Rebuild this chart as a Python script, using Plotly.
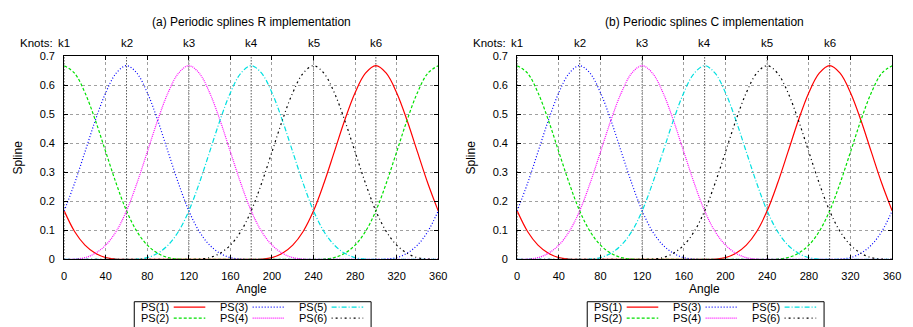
import plotly.graph_objects as go

W, H = 913, 327

angle = list(range(0, 361, 10))

ps1 = [0.167, 0.096, 0.049, 0.021, 0.006, 0.001, 0, 0, 0, 0, 0, 0, 0, 0, 0, 0, 0, 0, 0,
       0.001, 0.006, 0.021, 0.049, 0.096, 0.167, 0.262, 0.370, 0.479, 0.574, 0.641, 0.667,
       0.641, 0.574, 0.479, 0.370, 0.262, 0.167]
ps2 = [0.667, 0.641, 0.574, 0.479, 0.370, 0.262, 0.167, 0.096, 0.049, 0.021, 0.006, 0.001,
       0, 0, 0, 0, 0, 0, 0, 0, 0, 0, 0, 0, 0,
       0.001, 0.006, 0.021, 0.049, 0.096, 0.167, 0.262, 0.370, 0.479, 0.574, 0.641, 0.667]
ps3 = [0.167, 0.262, 0.370, 0.479, 0.574, 0.641, 0.667, 0.641, 0.574, 0.479, 0.370, 0.262,
       0.167, 0.096, 0.049, 0.021, 0.006, 0.001, 0, 0, 0, 0, 0, 0, 0, 0, 0, 0, 0, 0, 0,
       0.001, 0.006, 0.021, 0.049, 0.096, 0.167]
ps4 = [0, 0.001, 0.006, 0.021, 0.049, 0.096, 0.167, 0.262, 0.370, 0.479, 0.574, 0.641, 0.667,
       0.641, 0.574, 0.479, 0.370, 0.262, 0.167, 0.096, 0.049, 0.021, 0.006, 0.001,
       0, 0, 0, 0, 0, 0, 0, 0, 0, 0, 0, 0, 0]
ps5 = [0, 0, 0, 0, 0, 0, 0, 0.001, 0.006, 0.021, 0.049, 0.096, 0.167, 0.262, 0.370, 0.479,
       0.574, 0.641, 0.667, 0.641, 0.574, 0.479, 0.370, 0.262, 0.167, 0.096, 0.049, 0.021,
       0.006, 0.001, 0, 0, 0, 0, 0, 0, 0]
ps6 = [0, 0, 0, 0, 0, 0, 0, 0, 0, 0, 0, 0, 0, 0.001, 0.006, 0.021, 0.049, 0.096, 0.167,
       0.262, 0.370, 0.479, 0.574, 0.641, 0.667, 0.641, 0.574, 0.479, 0.370, 0.262, 0.167,
       0.096, 0.049, 0.021, 0.006, 0.001, 0]

series_names = ["PS(1)", "PS(2)", "PS(3)", "PS(4)", "PS(5)", "PS(6)"]
series_vals = [ps1, ps2, ps3, ps4, ps5, ps6]
colors = ["#ff0000", "#00e000", "#0000ff", "#ff00ff", "#00e0e0", "#000000"]
dashes = ["solid", "3px,2px", "1px,2px", "1px,1px", "5px,2px,1px,2px", "1px,3px,2px,3px"]

knots = [0, 60, 120, 180, 240, 300]
knot_labels = ["k1", "k2", "k3", "k4", "k5", "k6"]
titles = ["(a) Periodic splines R implementation", "(b) Periodic splines C implementation"]

FONT = "Liberation Sans, Arial, sans-serif"
FS = 12
FS_KNOT = 11.5
FS_TICK = 11
FS_LEG = 11

# pixel layout
px_left = [62, 521]
px_right = [441, 901]
py_top, py_bot = 52, 263

def px(x):
    return x / W

def py(y):
    return (H - y) / H

fig = go.Figure()
annotations = []
shapes = []

for p in range(2):
    xa = "x" if p == 0 else "x2"
    ya = "y" if p == 0 else "y2"
    for name, vals, c, d in zip(series_names, series_vals, colors, dashes):
        fig.add_trace(go.Scatter(x=angle, y=vals, mode="lines", name=name,
                                 line=dict(color=c, width=1.2, dash=d, shape="spline", smoothing=1),
                                 xaxis=xa, yaxis=ya, showlegend=False, hoverinfo="skip"))
    # knot lines
    for k in knots:
        shapes.append(dict(type="line", xref=xa, yref=ya + " domain", x0=k, x1=k, y0=0, y1=1,
                           line=dict(color="black", width=1, dash="1px,2px"), layer="below"))
    # knot labels
    for k, lab in zip(knots, knot_labels):
        annotations.append(dict(x=k, y=py(38), xref=xa, yref="paper", text=lab, showarrow=False,
                                xanchor="center", yanchor="middle", font=dict(size=FS_KNOT)))
    annotations.append(dict(x=px(px_left[p] - 9), y=py(38), xref="paper", yref="paper", text="Knots:",
                            showarrow=False, xanchor="right", yanchor="middle", font=dict(size=FS_KNOT)))
    # title
    annotations.append(dict(x=px((px_left[p] + px_right[p]) / 2), y=py(17), xref="paper", yref="paper",
                            text=titles[p], showarrow=False, xanchor="center", yanchor="middle",
                            font=dict(size=FS)))
    # axis titles
    annotations.append(dict(x=px((px_left[p] + px_right[p]) / 2), y=py(294), xref="paper", yref="paper",
                            text="Angle", showarrow=False, xanchor="center", yanchor="middle",
                            font=dict(size=FS)))
    annotations.append(dict(x=px(px_left[p] - 47), y=py((py_top + py_bot) / 2), xref="paper", yref="paper",
                            text="Spline", showarrow=False, xanchor="center", yanchor="middle",
                            textangle=-90, font=dict(size=FS)))
    # legend box
    bx0 = px_left[p] + 71
    shapes.append(dict(type="rect", xref="paper", yref="paper", x0=px(bx0), x1=px(bx0 + 240),
                       y0=py(345), y1=py(307), line=dict(color="black", width=1),
                       fillcolor="rgba(0,0,0,0)", layer="above"))
    for i, (name, c, d) in enumerate(zip(series_names, colors, dashes)):
        col, row = i // 2, i % 2
        ty = 312.5 + row * 11.5
        tx = bx0 + 5 + col * 80
        annotations.append(dict(x=px(tx), y=py(ty), xref="paper", yref="paper", text=name,
                                showarrow=False, xanchor="left", yanchor="middle", font=dict(size=FS_LEG)))
        fig.add_trace(go.Scatter(x=[tx + 35, tx + 67], y=[ty, ty], mode="lines",
                                 line=dict(color=c, width=1.2, dash=d), xaxis="x3", yaxis="y3",
                                 showlegend=False, hoverinfo="skip", cliponaxis=False))

axis_common = dict(showline=True, linecolor="black", linewidth=1, mirror="ticks", ticks="inside",
                   ticklen=4, tickcolor="black", showgrid=True, gridcolor="#a0a0a0", griddash="dot",
                   gridwidth=1, zeroline=False, tickfont=dict(size=FS_TICK))

fig.update_layout(
    width=W, height=H, margin=dict(l=0, r=0, t=0, b=0),
    paper_bgcolor="white", plot_bgcolor="rgba(0,0,0,0)",
    font=dict(family=FONT, size=FS, color="black"),
    showlegend=False,
    xaxis=dict(domain=[px(px_left[0]), px(px_right[0])], range=[0, 360], dtick=40, anchor="y",
               ticklabelstandoff=6, **axis_common),
    yaxis=dict(domain=[py(py_bot), py(py_top)], range=[0, 0.7], dtick=0.1, anchor="x",
               ticklabelstandoff=6, **axis_common),
    xaxis2=dict(domain=[px(px_left[1]), px(px_right[1])], range=[0, 360], dtick=40, anchor="y2",
                ticklabelstandoff=6, **axis_common),
    yaxis2=dict(domain=[py(py_bot), py(py_top)], range=[0, 0.7], dtick=0.1, anchor="x2",
                ticklabelstandoff=6, **axis_common),
    xaxis3=dict(domain=[0, 1], range=[0, W], visible=False, anchor="y3", fixedrange=True),
    yaxis3=dict(domain=[0, 1], range=[H, 0], visible=False, anchor="x3", fixedrange=True),
    annotations=annotations,
    shapes=shapes,
)

fig.write_html("out.html")
